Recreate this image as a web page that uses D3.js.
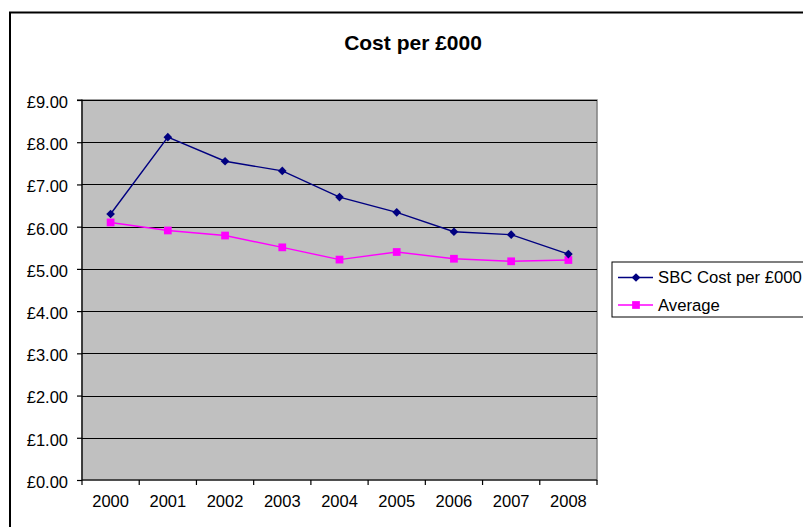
<!DOCTYPE html>
<html><head><meta charset="utf-8">
<script src="https://cdn.jsdelivr.net/npm/d3@7"></script>
<style>
html,body{margin:0;padding:0;background:#fff;}
svg{display:block;font-family:Arial,"Liberation Sans",sans-serif;}
</style></head>
<body>
<svg id="chart" width="803" height="527"></svg>
<script>
const years = ["2000","2001","2002","2003","2004","2005","2006","2007","2008"];
const sbcCost = [6.30, 8.12, 7.55, 7.32, 6.70, 6.34, 5.88, 5.81, 5.35];
const averageCost = [6.10, 5.91, 5.79, 5.51, 5.22, 5.40, 5.24, 5.18, 5.21];
const yTicks = [0,1,2,3,4,5,6,7,8,9];
const seriesNames = ["SBC Cost per £000", "Average"];
const chartTitle = "Cost per £000";

const svg = d3.select("#chart");
const plot = {left: 82, right: 597, top: 100, bottom: 480};

// outer chart border
svg.append("rect").attr("x", 10).attr("y", 12.5).attr("width", 820).attr("height", 540)
  .attr("fill", "#fff").attr("stroke", "#000").attr("stroke-width", 2);

const x = d3.scaleBand().domain(years).range([plot.left, plot.right]).paddingInner(0).paddingOuter(0);
const y = d3.scaleLinear().domain([0, 9]).range([plot.bottom, plot.top]);

// plot area
svg.append("rect").attr("x", plot.left).attr("y", plot.top)
  .attr("width", plot.right - plot.left).attr("height", plot.bottom - plot.top)
  .attr("fill", "#c0c0c0").attr("stroke", "#808080").attr("stroke-width", 1.5);

// gridlines
svg.append("g").selectAll("line").data(yTicks.filter(d => d > 0)).join("line")
  .attr("x1", plot.left).attr("x2", plot.right)
  .attr("y1", d => Math.round(y(d)) + 0.5).attr("y2", d => Math.round(y(d)) + 0.5)
  .attr("stroke", "#000").attr("stroke-width", 1.2);

// y axis
const yAxis = d3.axisLeft(y).tickValues(yTicks).tickSize(5).tickPadding(9)
  .tickFormat(d => "£" + d3.format(".2f")(d));
const gy = svg.append("g").attr("transform", `translate(${plot.left},0)`).call(yAxis);
gy.select(".domain").attr("stroke", "#000").attr("stroke-width", 1.2).attr("d", `M-5,${y(9)}H0V${y(0)}`);
gy.selectAll(".tick line").attr("stroke", "#000").attr("stroke-width", 1.2);
gy.selectAll(".tick text").attr("font-size", 16.5).attr("fill", "#000").attr("dy", "0.45em")
  .attr("font-family", "Arial, 'Liberation Sans', sans-serif");

// x axis
const xAxis = d3.axisBottom(x).tickSize(0).tickPadding(15);
const gx = svg.append("g").attr("transform", `translate(0,${plot.bottom})`).call(xAxis);
gx.select(".domain").attr("stroke", "#000").attr("stroke-width", 1.2).attr("d", `M${plot.left},0H${plot.right}`);
gx.selectAll(".tick text").attr("font-size", 16.5).attr("fill", "#000")
  .attr("font-family", "Arial, 'Liberation Sans', sans-serif");
// category boundary ticks
const bounds = years.map(d => x(d)).concat([x(years[years.length - 1]) + x.bandwidth()]);
gx.append("g").selectAll("line").data(bounds).join("line")
  .attr("x1", d => d).attr("x2", d => d).attr("y1", 0).attr("y2", 5)
  .attr("stroke", "#000").attr("stroke-width", 1.2);

const cx = d => x(d) + x.bandwidth() / 2;
const line = d3.line().x(d => cx(d[0])).y(d => y(d[1]));

const diamond = d3.symbol().type(d3.symbolDiamond2).size(48);
const square = d3.symbol().type(d3.symbolSquare).size(60);

function drawSeries(values, color, sym) {
  const pts = years.map((yr, i) => [yr, values[i]]);
  svg.append("path").datum(pts).attr("d", line).attr("fill", "none")
    .attr("stroke", color).attr("stroke-width", 1.4);
  svg.append("g").selectAll("path").data(pts).join("path")
    .attr("transform", d => `translate(${cx(d[0])},${y(d[1])})`)
    .attr("d", sym).attr("fill", color);
}
drawSeries(averageCost, "#ff00ff", square);
drawSeries(sbcCost, "#000080", diamond);

// title
svg.append("text").attr("x", 413).attr("y", 50).attr("text-anchor", "middle")
  .attr("font-size", 21).attr("font-weight", "bold").attr("fill", "#000").text(chartTitle);

// legend
const lg = svg.append("g");
lg.append("rect").attr("x", 612).attr("y", 262).attr("width", 220).attr("height", 55)
  .attr("fill", "#fff").attr("stroke", "#000").attr("stroke-width", 1);
const legendItems = [
  {name: seriesNames[0], color: "#000080", sym: diamond, cy: 277.5},
  {name: seriesNames[1], color: "#ff00ff", sym: square, cy: 305}
];
legendItems.forEach(it => {
  lg.append("line").attr("x1", 618).attr("x2", 653).attr("y1", it.cy).attr("y2", it.cy)
    .attr("stroke", it.color).attr("stroke-width", 1.4);
  lg.append("path").attr("transform", `translate(636,${it.cy})`).attr("d", it.sym).attr("fill", it.color);
  lg.append("text").attr("x", 658).attr("y", it.cy).attr("dy", "0.35em")
    .attr("font-size", 16.7).attr("fill", "#000").text(it.name);
});
</script>
</body></html>
